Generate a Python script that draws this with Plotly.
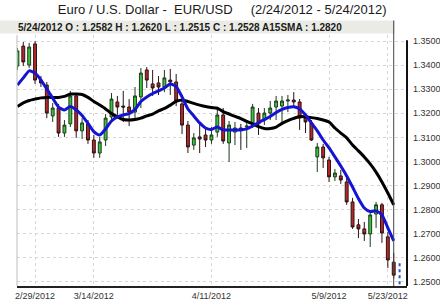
import pandas as pd
import plotly.graph_objects as go

# ---------------- data ----------------
start_date = "2012-02-24"
end_date = "2012-05-24"
tick_labels = ["2/29/2012", "3/14/2012", "4/11/2012", "5/9/2012", "5/23/2012"]

open_ = [1.3396, 1.3479, 1.3400, 1.3488, 1.3338, 1.3317, 1.3189, 1.3222, 1.3118, 1.3156,
         1.3272, 1.3127, 1.3156, 1.3089, 1.3035, 1.3089, 1.3185, 1.3247, 1.3230, 1.3226,
         1.3205, 1.3268, 1.3380, 1.3322, 1.3326, 1.3309, 1.3338, 1.3330, 1.3239, 1.3151,
         1.3068, 1.3102, 1.3110, 1.3089, 1.3122, 1.3193, 1.3077, 1.3122, 1.3139, 1.3143,
         1.3156, 1.3201, 1.3172, 1.3201, 1.3226, 1.3230, 1.3251, 1.3255, 1.3247, 1.3180,
         1.3160, 1.3019, 1.3060, 1.3006, 1.2936, 1.2940, 1.2915, 1.2832, 1.2737, 1.2720,
         1.2699, 1.2782, 1.2820, 1.2687, 1.2582]
high = [1.3471, 1.3496, 1.3492, 1.3500, 1.3355, 1.3330, 1.3243, 1.3239, 1.3172, 1.3293,
        1.3284, 1.3180, 1.3172, 1.3110, 1.3102, 1.3197, 1.3284, 1.3272, 1.3293, 1.3259,
        1.3309, 1.3388, 1.3392, 1.3380, 1.3355, 1.3380, 1.3384, 1.3363, 1.3255, 1.3168,
        1.3118, 1.3164, 1.3139, 1.3143, 1.3226, 1.3222, 1.3168, 1.3164, 1.3156, 1.3172,
        1.3239, 1.3222, 1.3222, 1.3251, 1.3272, 1.3272, 1.3276, 1.3288, 1.3259, 1.3201,
        1.3172, 1.3077, 1.3073, 1.3019, 1.2969, 1.2965, 1.2932, 1.2849, 1.2761, 1.2749,
        1.2790, 1.2832, 1.2828, 1.2707, 1.2620]
low = [1.3380, 1.3396, 1.3388, 1.3322, 1.3309, 1.3180, 1.3164, 1.3102, 1.3102, 1.3143,
       1.3098, 1.3093, 1.3073, 1.3015, 1.3015, 1.3064, 1.3172, 1.3193, 1.3164, 1.3147,
       1.3172, 1.3222, 1.3305, 1.3272, 1.3276, 1.3288, 1.3276, 1.3230, 1.3114, 1.3035,
       1.3048, 1.3035, 1.3060, 1.3073, 1.3102, 1.3073, 1.2998, 1.3068, 1.3048, 1.3056,
       1.3139, 1.3110, 1.3151, 1.3172, 1.3172, 1.3164, 1.3205, 1.3222, 1.3131, 1.3118,
       1.3085, 1.2956, 1.2973, 1.2915, 1.2919, 1.2907, 1.2820, 1.2720, 1.2682, 1.2670,
       1.2645, 1.2724, 1.2662, 1.2558, 1.2515]
close = [1.3459, 1.3413, 1.3475, 1.3338, 1.3326, 1.3201, 1.3222, 1.3118, 1.3151, 1.3272,
         1.3127, 1.3160, 1.3089, 1.3035, 1.3081, 1.3180, 1.3259, 1.3226, 1.3226, 1.3205,
         1.3272, 1.3367, 1.3338, 1.3305, 1.3309, 1.3347, 1.3330, 1.3251, 1.3151, 1.3060,
         1.3098, 1.3093, 1.3089, 1.3110, 1.3193, 1.3085, 1.3151, 1.3139, 1.3131, 1.3147,
         1.3226, 1.3156, 1.3201, 1.3222, 1.3251, 1.3251, 1.3255, 1.3247, 1.3180, 1.3164,
         1.3089, 1.3060, 1.3015, 1.2936, 1.2952, 1.2923, 1.2832, 1.2728, 1.2720, 1.2699,
         1.2778, 1.2820, 1.2703, 1.2591, 1.2528]

fast_ma = [1.3317, 1.3347, 1.3376, 1.3367, 1.3338, 1.3301, 1.3263, 1.3226, 1.3214, 1.3228,
           1.3214, 1.3191, 1.3158, 1.3124, 1.3110, 1.3135, 1.3168, 1.3185, 1.3193, 1.3199,
           1.3216, 1.3249, 1.3268, 1.3282, 1.3293, 1.3305, 1.3322, 1.3311, 1.3268, 1.3218,
           1.3189, 1.3160, 1.3139, 1.3133, 1.3143, 1.3131, 1.3131, 1.3131, 1.3131, 1.3135,
           1.3147, 1.3162, 1.3174, 1.3187, 1.3203, 1.3216, 1.3224, 1.3227, 1.3218, 1.3193,
           1.3160, 1.3127, 1.3089, 1.3056, 1.3019, 1.2981, 1.2940, 1.2894, 1.2846, 1.2807,
           1.2792, 1.2795, 1.2778, 1.2724, 1.2670]
sma15 = [1.3228, 1.3243, 1.3253, 1.3259, 1.3264, 1.3266, 1.3266, 1.3266, 1.3270, 1.3280,
         1.3280, 1.3278, 1.3266, 1.3249, 1.3234, 1.3218, 1.3199, 1.3185, 1.3174, 1.3172,
         1.3174, 1.3180, 1.3189, 1.3197, 1.3210, 1.3220, 1.3234, 1.3249, 1.3255, 1.3249,
         1.3241, 1.3234, 1.3228, 1.3224, 1.3221, 1.3207, 1.3197, 1.3187, 1.3178, 1.3166,
         1.3156, 1.3145, 1.3137, 1.3137, 1.3143, 1.3158, 1.3170, 1.3179, 1.3187, 1.3185,
         1.3182, 1.3178, 1.3172, 1.3164, 1.3139, 1.3118, 1.3098, 1.3068, 1.3044, 1.3019,
         1.2990, 1.2956, 1.2915, 1.2869, 1.2820]

next_bar = [1.2490, 1.2580]   # blue marker right of last candle

y_ticks = [1.25, 1.26, 1.27, 1.28, 1.29, 1.30, 1.31, 1.32, 1.33, 1.34, 1.35]

# ---------------- build ----------------
dates = pd.bdate_range(start_date, end_date)
labels = [f"{d.month}/{d.day}/{d.year}" for d in dates]
idx = list(range(len(dates)))
tick_idx = [labels.index(t) for t in tick_labels]
last = idx[-1]

FONT = "Liberation Sans, Arial, sans-serif"

fig = go.Figure()
fig.add_trace(go.Candlestick(
    x=idx, open=open_, high=high, low=low, close=close,
    increasing=dict(fillcolor="#38c638", line=dict(color="#1f3a1f", width=1)),
    decreasing=dict(fillcolor="#b8262a", line=dict(color="#2a1414", width=1)),
    whiskerwidth=0, hoverinfo="skip", showlegend=False,
))
fig.add_trace(go.Scatter(x=idx, y=sma15, mode="lines",
                         line=dict(color="#000000", width=3, shape="spline", smoothing=0.6),
                         hoverinfo="skip", showlegend=False))
fig.add_trace(go.Scatter(x=idx, y=fast_ma, mode="lines",
                         line=dict(color="#1414d2", width=3, shape="spline", smoothing=0.6),
                         hoverinfo="skip", showlegend=False))
fig.add_trace(go.Scatter(x=[last + 1, last + 1], y=next_bar, mode="lines",
                         line=dict(color="#2a4ed0", width=2, dash="dot"),
                         hoverinfo="skip", showlegend=False))

x_lo, x_hi = -0.07, 66.26
y_lo, y_hi = 1.2483, 1.3525

fig.update_layout(
    width=440, height=301,
    margin=dict(l=17, r=33, t=35, b=15),
    paper_bgcolor="white", plot_bgcolor="white",
    font=dict(family=FONT, color="#333333"),
    showlegend=False,
    hovermode=False,
    title=dict(
        text="Euro / U.S. Dollar -\u00a0\u00a0EUR/USD\u00a0\u00a0\u00a0\u00a0\u00a0(2/24/2012 - 5/24/2012)",
        x=0.505, xref="container", xanchor="center",
        y=1 - 9.5 / 301, yref="container", yanchor="middle",
        font=dict(family=FONT, size=13, color="#1a1a1a"),
    ),
    xaxis=dict(
        range=[x_lo, x_hi], tickvals=tick_idx, ticktext=tick_labels,
        showgrid=True, gridcolor="#d6d6d6", griddash="dot", gridwidth=1,
        showline=True, linecolor="#222222", linewidth=2,
        ticks="", zeroline=False, tickfont=dict(size=9, color="#333333"),
        rangeslider=dict(visible=False), fixedrange=True, automargin=False,
    ),
    yaxis=dict(
        range=[y_lo, y_hi], side="right", tickvals=y_ticks, tickformat=".4f",
        showgrid=True, gridcolor="#d6d6d6", griddash="dot", gridwidth=1,
        showline=False, ticks="", zeroline=False, ticklabelstandoff=5,
        tickfont=dict(size=9, color="#333333"), fixedrange=True, automargin=False,
    ),
)

plot_w = 440 - 17 - 33
plot_h = 301 - 35 - 15
hdr_top = 1 + (35 - 20.5) / plot_h
hdr_bot = 1 + (35 - 33.5) / plot_h

fig.add_shape(type="rect", xref="paper", yref="paper",
              x0=-17 / plot_w, x1=(395 - 17) / plot_w, y0=hdr_bot, y1=hdr_top,
              fillcolor="#ebebe5", line=dict(width=0), layer="above")
fig.add_shape(type="line", xref="paper", yref="paper", x0=0, x1=0, y0=0, y1=1,
              line=dict(color="#bdbdbd", width=1))
fig.add_shape(type="line", xref="paper", yref="y", x0=1, x1=1, y0=y_lo, y1=1.3503,
              line=dict(color="#111111", width=2))
fig.add_shape(type="line", xref="x", yref="paper", x0=last, x1=last, y0=0, y1=hdr_top,
              line=dict(color="#444444", width=1), layer="above")

hdr_text = (f"<b>{labels[-1]} O : {open_[-1]:.4f} H : {high[-1]:.4f} "
            f"L : {low[-1]:.4f} C : {close[-1]:.4f} A15SMA : {sma15[-1]:.4f}</b>")
fig.add_annotation(text=hdr_text, xref="paper", yref="paper",
                   x=(16 - 17) / plot_w, y=1 + (35 - 27) / plot_h,
                   xanchor="left", yanchor="middle", showarrow=False,
                   font=dict(family=FONT, size=10, color="#1a1a1a"))

fig.write_html("out.html")
